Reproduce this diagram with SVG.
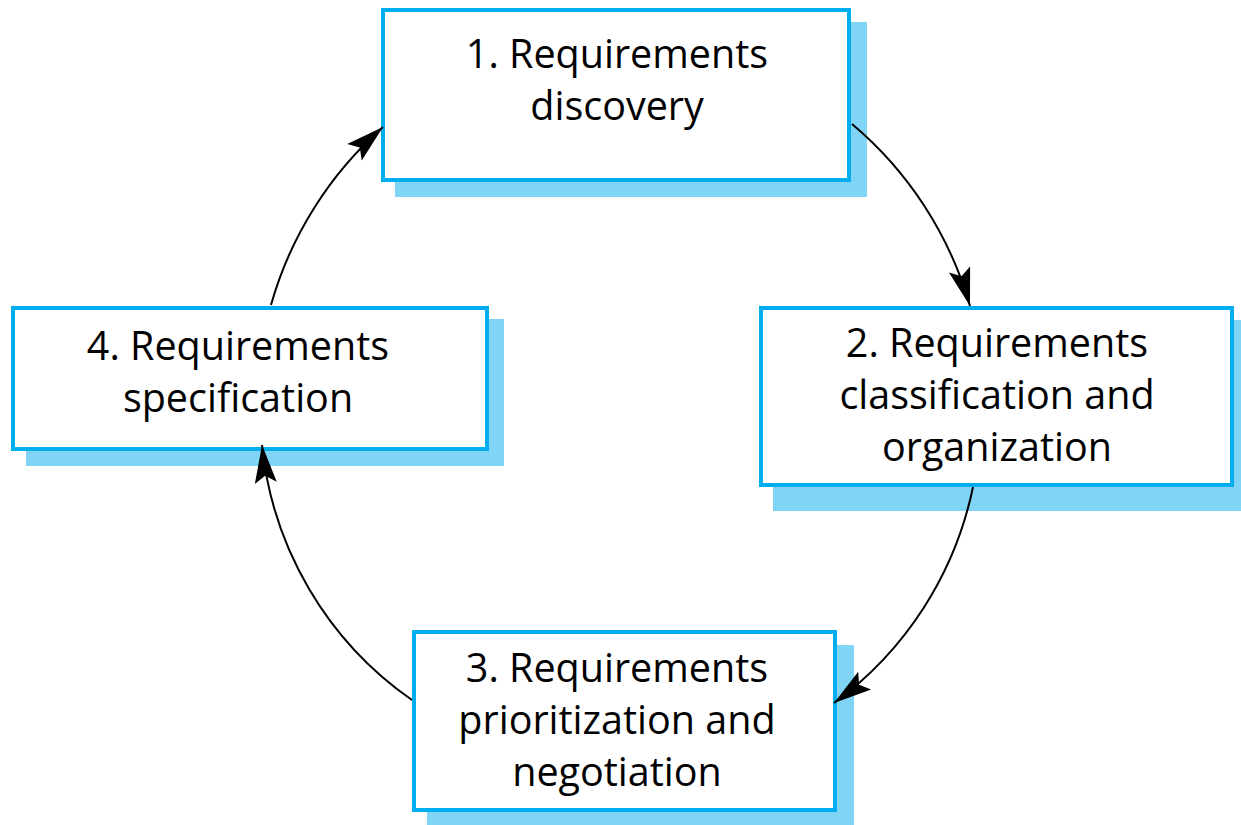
<svg xmlns="http://www.w3.org/2000/svg" width="1241" height="825" viewBox="0 0 1241 825">
<style>
.shadow{fill:#80d5f7;stroke:none}
.box{fill:#ffffff;stroke:#00aeef;stroke-width:4}
.lbl{font-family:"Open Sans","Noto Sans",sans-serif;font-size:39.5px;font-weight:500;fill:#000;text-anchor:middle}
.conn{fill:none;stroke:#000;stroke-width:2}
</style>
<defs>
<marker id="ah" markerUnits="userSpaceOnUse" viewBox="-40 -13 42 26" markerWidth="42" markerHeight="26" refX="0" refY="0" orient="auto">
<path d="M0,0 L-38,-11 L-31,0 L-38,11 Z" fill="#000"/>
</marker>
</defs>
<rect width="1241" height="825" fill="#ffffff"/>
<g id="node1">
<rect class="shadow" x="395" y="22" width="472" height="175"/>
<rect class="box" x="383" y="10" width="466" height="170"/>
<text class="lbl" x="617" y="68">1. Requirements</text>
<text class="lbl" x="617" y="120">discovery</text>
</g>
<g id="node2">
<rect class="shadow" x="773" y="320" width="468" height="191"/>
<rect class="box" x="761" y="308" width="471" height="177"/>
<text class="lbl" x="997" y="357">2. Requirements</text>
<text class="lbl" x="997" y="409">classification and</text>
<text class="lbl" x="997" y="461">organization</text>
</g>
<g id="node3">
<rect class="shadow" x="427" y="645" width="427" height="180"/>
<rect class="box" x="414" y="632" width="421" height="178"/>
<text class="lbl" x="617" y="682">3. Requirements</text>
<text class="lbl" x="617" y="734">prioritization and</text>
<text class="lbl" x="617" y="786">negotiation</text>
</g>
<g id="node4">
<rect class="shadow" x="26" y="319" width="478" height="147"/>
<rect class="box" x="13" y="308" width="474" height="141"/>
<text class="lbl" x="238" y="360">4. Requirements</text>
<text class="lbl" x="238" y="412">specification</text>
</g>
<g id="connectors">
<path class="conn" d="M852,124 A372,372 0 0 1 970,306" marker-end="url(#ah)"/>
<path class="conn" d="M973,487 A357,357 0 0 1 834,703" marker-end="url(#ah)"/>
<path class="conn" d="M412,700 A354,354 0 0 1 262,445" marker-end="url(#ah)"/>
<path class="conn" d="M271,305 A372,372 0 0 1 383,127" marker-end="url(#ah)"/>
</g>
</svg>
